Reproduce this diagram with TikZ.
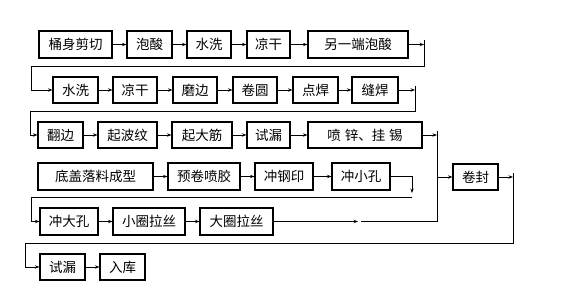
\documentclass[tikz,border=0pt]{standalone}
\usepackage{fontspec}
\newfontfamily\cjk{Noto Sans CJK SC}
\usetikzlibrary{arrows.meta}
\begin{document}
\begin{tikzpicture}[x=1pt,y=-1pt,
  box/.style={draw,line width=1.1pt,inner sep=0pt,minimum height=27pt,
    font=\cjk\fontsize{13.5}{14}\selectfont},
  ln/.style={line width=1pt},
  arr/.style={line width=0.9pt,-{Stealth[length=4.5pt,width=3.4pt]}}]
\useasboundingbox (0,0) rectangle (575,307);
% Row 1
\node[box,minimum width=73pt] (a1) at (75.5,44.5) {桶身剪切};
\node[box,minimum width=45pt] (a2) at (149.5,44.5) {泡酸};
\node[box,minimum width=44pt] (a3) at (209,44.5) {水洗};
\node[box,minimum width=43pt] (a4) at (268.5,44.5) {凉干};
\node[box,minimum width=100pt] (a5) at (358,44.5) {另一端泡酸};
% Row 2
\node[box,minimum width=45pt,minimum height=26pt] (b1) at (75.5,90) {水洗};
\node[box,minimum width=44pt,minimum height=26pt] (b2) at (135,90) {凉干};
\node[box,minimum width=44pt,minimum height=26pt] (b3) at (195,90) {磨边};
\node[box,minimum width=44pt,minimum height=26pt] (b4) at (255,90) {卷圆};
\node[box,minimum width=45pt,minimum height=26pt] (b5) at (315.5,90) {点焊};
\node[box,minimum width=46pt,minimum height=26pt] (b6) at (375,90) {缝焊};
% Row 3
\node[box,minimum width=45pt,minimum height=26pt] (c1) at (60.5,135) {翻边};
\node[box,minimum width=59pt,minimum height=26pt] (c2) at (127.5,135) {起波纹};
\node[box,minimum width=60pt,minimum height=26pt] (c3) at (202,135) {起大筋};
\node[box,minimum width=43pt,minimum height=26pt] (c4) at (268.5,135) {试漏};
\node[box,minimum width=114pt,minimum height=26pt] (c5) at (365,135) {喷\hspace{4pt}锌、挂\hspace{4pt}锡};
% Row 4
\node[box,minimum width=115pt] (d1) at (95.5,176.5) {底盖落料成型};
\node[box,minimum width=72pt] (d2) at (204,176.5) {预卷喷胶};
\node[box,minimum width=58pt] (d3) at (284,176.5) {冲钢印};
\node[box,minimum width=58pt] (d4) at (361,176.5) {冲小孔};
\node[box,minimum width=45pt,minimum height=26pt] (k) at (475.5,177) {卷封};
% Row 5
\node[box,minimum width=58pt] (e1) at (69,221.5) {冲大孔};
\node[box,minimum width=72pt] (e2) at (149,221.5) {小圈拉丝};
\node[box,minimum width=73pt] (e3) at (236.5,221.5) {大圈拉丝};
% Row 6
\node[box,minimum width=45pt,minimum height=26pt] (f1) at (62.5,267) {试漏};
\node[box,minimum width=45pt,minimum height=26pt] (f2) at (122.5,267) {入库};
% coordinates
\coordinate (r1) at (424,44.5);
\coordinate (r2) at (415,90);
\coordinate (r3) at (437,135);
\coordinate (j3) at (437,177);
\coordinate (r4) at (412,176.5);
\coordinate (r4b) at (412,197);
\coordinate (m5) at (358,221.5);
\coordinate (m5b) at (361,221.5);
\coordinate (r5) at (437,221.5);
\coordinate (rk) at (513,177);
% row connectors
\draw[arr] (a1) -- (a2);
\draw[arr] (a2) -- (a3);
\draw[arr] (a3) -- (a4);
\draw[arr] (a4) -- (a5);
\draw[arr] (a5) -- (r1);
\draw[ln] (424,40) -- (424,67) -- (31,67) -- (31,90);
\draw[arr] (31,90) -- (b1.west);
\draw[arr] (b1) -- (b2);
\draw[arr] (b2) -- (b3);
\draw[arr] (b3) -- (b4);
\draw[arr] (b4) -- (b5);
\draw[arr] (b5) -- (b6);
\draw[arr] (b6) -- (r2);
\draw[ln] (415,86) -- (415,112) -- (30,112) -- (30,135);
\draw[arr] (30,135) -- (c1.west);
\draw[arr] (c1) -- (c2);
\draw[arr] (c2) -- (c3);
\draw[arr] (c3) -- (c4);
\draw[arr] (c4) -- (c5);
\draw[arr] (c5) -- (r3);
\draw[ln] (437,131) -- (r5);
\draw[arr] (j3) -- (k.west);
\draw[arr] (d1) -- (d2);
\draw[arr] (d2) -- (d3);
\draw[arr] (d3) -- (d4);
\draw[ln] (d4) -- (r4);
\draw[arr] (r4) -- (412,193);
\draw[ln] (r4b) -- (31,197) -- (31,221.5);
\draw[arr] (31,221.5) -- (e1.west);
\draw[arr] (e1) -- (e2);
\draw[arr] (e2) -- (e3);
\draw[arr] (e3) -- (m5);
\draw[ln] (m5b) -- (r5);
\draw[arr] (k) -- (rk);
\draw[ln] (513,173) -- (513,243) -- (25,243) -- (25,267);
\draw[arr] (25,267) -- (f1.west);
\draw[arr] (f1) -- (f2);
\end{tikzpicture}
\end{document}
